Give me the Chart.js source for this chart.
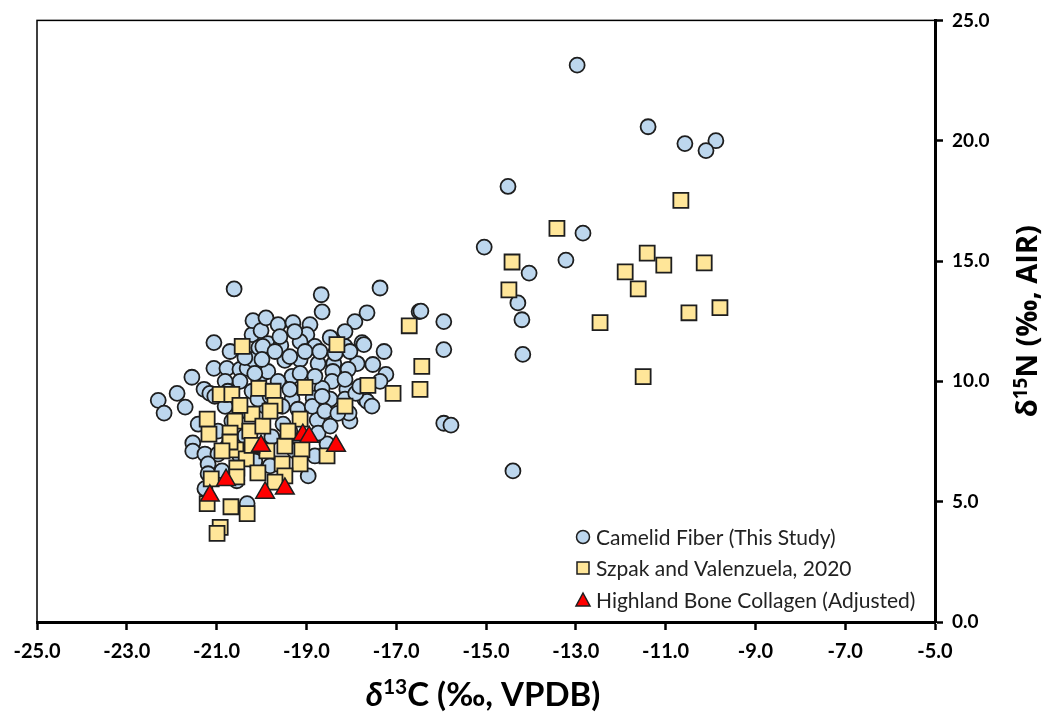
<!DOCTYPE html>
<html>
<head>
<meta charset="utf-8">
<script src="https://cdn.jsdelivr.net/npm/chart.js@4.4.0/dist/chart.umd.min.js"></script>
<style>
  html, body { margin: 0; padding: 0; background: #fff; }
</style>
</head>
<body>
<canvas id="chart" width="1049" height="715"></canvas>
<script>
// series names
const seriesNames = ['Camelid Fiber (This Study)', 'Szpak and Valenzuela, 2020', 'Highland Bone Collagen (Adjusted)'];

// Camelid fiber (this study): d13C, d15N
const fiberX = [
  -22.30, -22.17, -21.88, -21.70, -21.55, -21.41, -21.53, -21.53, -21.28, -21.15,
  -21.26, -20.97, -21.19, -21.19, -21.26, -20.32, -21.06, -21.06, -20.77, -20.70,
  -20.61, -20.48, -20.32, -20.19, -20.21, -20.19, -20.06, -20.01, -19.90, -19.86,
  -19.97, -20.21, -19.97, -19.63, -19.57, -19.30, -18.92, -18.99, -19.14, -18.81,
  -18.67, -18.65, -17.92, -17.65, -17.36, -17.76, -17.72, -17.27, -17.23, -19.48,
  -19.14, -18.74, -18.39, -18.41, -17.87, -17.52, -18.07, -19.86, -19.32, -19.63,
  -18.43, -18.10, -18.65, -19.32, -18.85, -17.70, -18.47, -18.14, -17.65, -19.92,
  -19.52, -18.76, -18.03, -18.96, -18.54, -17.90, -17.54, -18.05, -18.14,
  -20.81, -20.48, -20.66, -20.37, -20.97, -20.75, -20.48, -20.15, -20.88, -20.55,
  -20.08, -19.81, -19.54, -19.19, -18.87, -18.59, -18.30, -19.37, -19.77, -18.74,
  -19.14, -20.15, -19.81, -18.81, -19.26, -18.47, -18.65, -19.14, -18.81, -18.14,
  -17.81, -17.36, -20.48, -20.81, -21.04, -20.15, -19.37, -19.70, -19.37, -19.03,
  -18.70, -18.36, -18.03, -18.47, -18.14, -19.59, -19.26, -20.37, -20.75, -19.99,
  -16.49, -16.45, -15.94, -15.94, -15.94, -15.78,
  -12.97, -11.39, -10.57, -9.88, -10.10, -14.51, -12.84, -15.04, -13.22, -14.04,
  -14.29, -14.20, -14.18, -14.40
];
const fiberY = [
  9.21, 8.68, 9.50, 8.93, 10.17, 8.22, 7.44, 7.10, 9.67, 9.50,
  6.98, 6.98, 6.57, 6.16, 5.54, 4.92, 11.61, 10.54, 10.54, 11.24,
  13.84, 10.50, 10.54, 10.91, 11.94, 12.52, 11.40, 12.11, 12.64, 11.57,
  10.33, 9.59, 11.45, 12.36, 11.49, 12.44, 12.36, 11.94, 11.65, 11.45,
  13.60, 12.89, 12.48, 12.85, 13.88, 11.61, 11.53, 11.24, 10.29, 10.87,
  10.91, 10.74, 10.74, 10.41, 10.74, 10.70, 10.50, 10.41, 10.21, 10.00,
  10.00, 9.67, 9.71, 9.26, 9.30, 9.26, 9.26, 9.26, 9.17, 8.97,
  8.22, 8.39, 8.35, 6.07, 7.40, 9.50, 8.97, 8.68, 11.45,
  8.96, 8.76, 8.35, 7.73, 7.93, 7.31, 6.90, 7.11, 6.28, 5.87,
  9.26, 9.38, 8.96, 8.84, 8.96, 8.76, 8.67, 7.93, 7.69, 7.85,
  7.52, 6.69, 6.49, 6.90, 7.11, 8.14, 9.38, 10.33, 10.21, 10.08,
  9.79, 10.00, 10.00, 10.00, 9.38, 10.33, 9.67, 11.24, 11.03, 11.24,
  11.24, 11.16, 11.24, 11.82, 12.07, 11.86, 12.07, 10.99, 9.59, 10.91,
  12.90, 12.92, 12.48, 11.32, 8.26, 8.18,
  23.14, 20.58, 19.88, 20.00, 19.59, 18.10, 16.16, 15.58, 15.04, 14.50,
  13.26, 12.56, 11.12, 6.28
];

// Szpak and Valenzuela, 2020
const szpakX = [
  -20.43, -18.32, -16.71, -16.43, -17.07, -16.47, -17.63, -18.14, -20.06, -19.74,
  -19.03, -20.92, -20.66, -21.21, -20.59, -20.21, -21.17, -20.70, -20.26, -19.97,
  -20.57, -20.70, -20.34, -20.55, -20.08, -21.12, -20.55, -21.21, -20.68, -20.32,
  -20.92, -20.99, -19.70, -19.14, -19.48, -19.10, -18.54, -19.54, -19.14, -19.48,
  -19.88, -19.41, -19.81, -20.88, -20.48, -20.21, -19.70,
  -13.42, -14.42, -14.49, -11.41, -11.04, -10.14, -11.90, -11.61, -10.48, -9.79,
  -12.46, -11.50, -10.66
];
const szpakY = [
  11.45, 11.53, 12.31, 10.62, 9.50, 9.67, 9.83, 8.97, 9.71, 9.59,
  9.75, 9.46, 9.46, 8.43, 8.35, 8.64, 7.81, 7.85, 7.93, 8.14,
  7.15, 7.48, 6.78, 6.40, 6.20, 5.95, 6.03, 4.92, 4.79, 4.50,
  3.93, 3.68, 9.00, 8.43, 7.31, 7.15, 6.90, 6.57, 6.57, 6.07,
  7.11, 7.93, 8.76, 7.11, 9.00, 7.34, 5.81,
  16.36, 14.96, 13.80, 15.33, 14.83, 14.92, 14.55, 13.84, 12.85, 13.06,
  12.44, 10.20, 17.52
];

// Highland bone collagen (adjusted)
const boneX = [-21.15, -20.79, -20.01, -19.92, -19.48, -19.08, -18.94, -18.34];
const boneY = [5.25, 5.90, 7.32, 5.37, 5.54, 7.77, 7.69, 7.32];

// axis ticks
const xTicks = [-25, -23, -21, -19, -17, -15, -13, -11, -9, -7, -5];
const yTicks = [0, 5, 10, 15, 20, 25];

const toPoints = (xs, ys) => xs.map((x, i) => ({ x: x, y: ys[i] }));

const LINE = '#1e1e1e';

const frameAndText = {
  id: 'frameAndText',
  beforeDatasetsDraw(chart) {
    const { ctx, chartArea: a } = chart;
    ctx.save();
    ctx.strokeStyle = '#000';
    ctx.lineWidth = 1.5;
    ctx.strokeRect(a.left, a.top, a.right - a.left, a.bottom - a.top);
    ctx.restore();
  },
  afterDraw(chart) {
    const { ctx, chartArea: a } = chart;

    // draws a run of differently styled pieces centred on x
    function rich(parts, x, y) {
      let w = 0;
      parts.forEach(p => { ctx.font = p.font; w += ctx.measureText(p.text).width; });
      let cx = x - w / 2;
      parts.forEach(p => {
        ctx.font = p.font;
        ctx.fillText(p.text, cx, y + (p.dy || 0));
        cx += ctx.measureText(p.text).width;
      });
    }

    ctx.save();
    ctx.fillStyle = '#000';
    ctx.textBaseline = 'alphabetic';
    ctx.textAlign = 'left';
    rich([
      { text: 'δ', font: 'italic bold 33px Lato' },
      { text: '13', font: 'bold 21px Lato', dy: -12 },
      { text: 'C (‰, VPDB)', font: 'bold 33px Lato' }
    ], (a.left + a.right) / 2 - 3, 706);

    ctx.translate(1037, (a.top + a.bottom) / 2);
    ctx.rotate(-Math.PI / 2);
    rich([
      { text: 'δ', font: 'bold 29px "Open Sans"' },
      { text: '15', font: 'bold 19px "Open Sans"', dy: -10 },
      { text: 'N (‰, AIR)', font: 'bold 29px "Open Sans"' }
    ], 0, 0);
    ctx.restore();

    // legend, bottom right of the plot
    ctx.save();
    const rows = [537, 568, 600];
    const mx = 583;
    chart.data.datasets.forEach((ds, i) => {
      const y = rows[i];
      ctx.fillStyle = ds.backgroundColor;
      ctx.strokeStyle = LINE;
      ctx.lineWidth = 1.5;
      ctx.beginPath();
      if (ds.pointStyle === 'circle') {
        ctx.arc(mx, y, 6.5, 0, Math.PI * 2);
      } else if (ds.pointStyle === 'rect') {
        ctx.rect(mx - 6, y - 6, 12, 12);
      } else {
        ctx.moveTo(mx, y - 7);
        ctx.lineTo(mx + 7, y + 6);
        ctx.lineTo(mx - 7, y + 6);
        ctx.closePath();
      }
      ctx.fill();
      ctx.stroke();
      ctx.fillStyle = '#222';
      ctx.font = '21px Lato';
      ctx.textBaseline = 'middle';
      ctx.fillText(ds.label, 596, y + 1);
    });
    ctx.restore();
  }
};

const config = {
  type: 'scatter',
  data: {
    datasets: [
      {
        label: seriesNames[0],
        data: toPoints(fiberX, fiberY),
        pointStyle: 'circle',
        pointRadius: 7.5,
        backgroundColor: '#BDD7EE',
        borderColor: LINE,
        borderWidth: 1.8,
        order: 2
      },
      {
        label: seriesNames[1],
        data: toPoints(szpakX, szpakY),
        pointStyle: 'rect',
        pointRadius: 10.6,
        backgroundColor: '#FFE699',
        borderColor: LINE,
        borderWidth: 1.8,
        order: 1
      },
      {
        label: seriesNames[2],
        data: toPoints(boneX, boneY),
        pointStyle: 'triangle',
        pointRadius: 10.8,
        backgroundColor: '#FF0000',
        borderColor: LINE,
        borderWidth: 1.5,
        order: 0
      }
    ]
  },
  options: {
    responsive: false,
    animation: false,
    events: [],
    layout: { padding: { left: 37, top: 17, right: 0, bottom: 0 } },
    plugins: {
      legend: { display: false },
      tooltip: { enabled: false }
    },
    scales: {
      x: {
        type: 'linear',
        position: 'bottom',
        min: -25,
        max: -5,
        afterBuildTicks: s => { s.ticks = xTicks.map(v => ({ value: v })); },
        afterFit: s => { s.height = 93; },
        grid: { drawOnChartArea: false, drawTicks: true, tickLength: 8, tickWidth: 2.5, tickColor: '#000' },
        border: { display: true, color: '#000', width: 3 },
        ticks: {
          padding: 10,
          color: '#000',
          font: { family: 'Lato', weight: 'bold', size: 20 },
          maxRotation: 0,
          callback: v => v.toFixed(1)
        }
      },
      y: {
        type: 'linear',
        position: 'right',
        min: 0,
        max: 25,
        afterBuildTicks: s => { s.ticks = yTicks.map(v => ({ value: v })); },
        afterFit: s => { s.width = 114; },
        grid: { drawOnChartArea: false, drawTicks: true, tickLength: 8, tickWidth: 2.5, tickColor: '#000' },
        border: { display: true, color: '#000', width: 3 },
        ticks: {
          padding: 9,
          color: '#000',
          font: { family: 'Lato', weight: 'bold', size: 19 },
          callback: v => v.toFixed(1)
        }
      }
    }
  },
  plugins: [frameAndText]
};

var chart = new Chart(document.getElementById('chart'), config);
</script>
</body>
</html>
